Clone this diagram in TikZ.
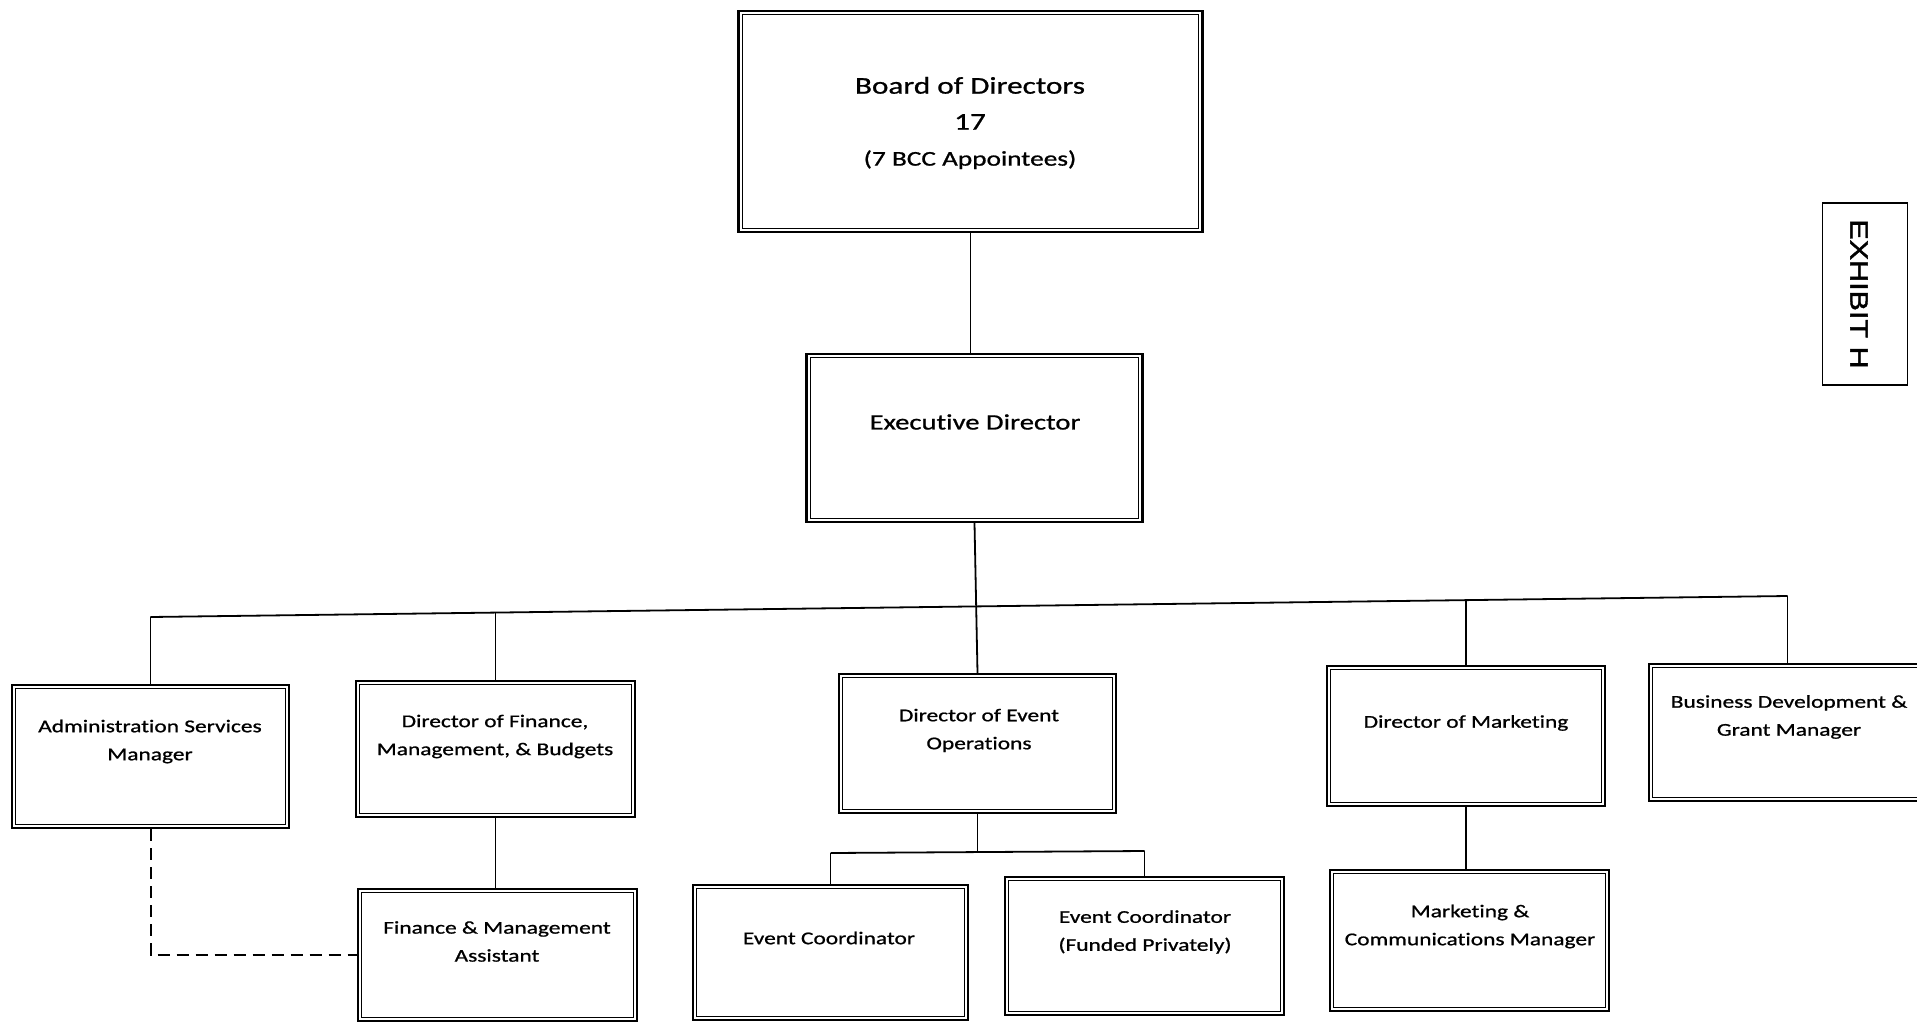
\documentclass[tikz,border=0pt]{standalone}
\usepackage{fontspec}
\setmainfont{Carlito}[FakeStretch=1.3, FakeBold=0.9, Ligatures=NoCommon]
\newfontfamily\exfont{Liberation Sans}[FakeStretch=1.22, FakeBold=1.6]
\tikzset{
  obox/.style={draw, line width=2.4pt, fill=white, inner sep=0pt},
  ibox/.style={draw, line width=1.1pt},
  conn/.style={line width=1.8pt},
  dconn/.style={line width=2pt, dash pattern=on 12pt off 7pt},
  rt/.style={align=center, inner sep=0pt, font=\fontsize{18}{28}\selectfont},
}
\newcommand\obx[5]{%
  \node[obox, minimum width=#4pt, minimum height=#5pt] (#1) at (#2,#3) {};
  \draw[ibox] ([shift={(5pt,5pt)}]#1.south west) rectangle ([shift={(-5pt,-5pt)}]#1.north east);
}
\begin{document}
\begin{tikzpicture}[x=1pt,y=-1pt]
\useasboundingbox (0,0) rectangle (1917,1023);
% boxes
\obx{board}{970.5}{121.5}{464}{221}
\obx{exec}{974.5}{438}{336}{168}
\obx{adm}{150.5}{756.5}{277}{143}
\obx{fin}{495.5}{749}{279}{136}
\obx{evops}{977.5}{743.5}{277}{139}
\obx{mkt}{1466}{736}{278}{140}
\obx{biz}{1787.5}{732.5}{277}{137}
\obx{fina}{497.5}{955}{279}{132}
\obx{evc}{830.5}{952.5}{275}{135}
\obx{evcf}{1144.5}{946}{279}{138}
\obx{mkc}{1469.5}{940.5}{279}{141}
% exhibit
\node[draw, line width=1.1pt, minimum width=85pt, minimum height=182pt, inner sep=0pt] (exh) at (1865,294) {};
\node[rotate=-90, inner sep=0pt, font=\exfont\fontsize{25}{30}\selectfont] (exht) at (1859,294) {EXHIBIT H};
% texts
\node[align=center, inner sep=0pt, font=\fontsize{24}{36}\selectfont] (boardt) at (970,123)
  {Board of Directors\\17\\{\fontsize{21}{25}\selectfont (7 BCC Appointees)}};
\node[inner sep=0pt, font=\fontsize{22}{28}\selectfont] (exect) at (975,422) {Executive Director};
\node[rt] (admt) at (150,741.5) {Administration Services\\Manager};
\node[rt] (fint) at (495,736.5) {Director of Finance,\\Management, \& Budgets};
\node[rt] (evopst) at (979,730.5) {Director of Event\\Operations};
\node[rt] (mktt) at (1466,723) {Director of Marketing};
\node[rt] (bizt) at (1789,717) {Business Development \&\\Grant Manager};
\node[rt] (finat) at (497,941.5) {Finance \& Management\\Assistant};
\node[rt] (evct) at (829,938) {Event Coordinator};
\node[rt] (evcft) at (1145,932) {Event Coordinator\\(Funded Privately)};
\node[rt] (mkct) at (1470,926.5) {Marketing \&\\Communications Manager};
% bus coordinates
\coordinate (badm) at (150.5,617);
\coordinate (bfin) at (495.5,612.5);
\coordinate (bmkt) at (1466,600.1);
\coordinate (bbiz) at (1787.5,596);
\coordinate (ejn) at (977.5,852);
\coordinate (eleft) at (830.5,853);
\coordinate (eright) at (1144.5,851);
% connectors
\draw[conn] (board.south) -- (board.south |- exec.north);
\draw[conn] (exec.south) -- (evops.north);
\draw[conn] (badm) -- (bbiz);
\draw[conn] (badm) -- (adm.north);
\draw[conn] (bfin) -- (fin.north);
\draw[conn] (bmkt) -- (mkt.north);
\draw[conn] (bbiz) -- (biz.north);
\draw[conn] (fin.south) -- (fin.south |- fina.north);
\draw[conn] (evops.south) -- (ejn);
\draw[conn] (eleft) -- (eright);
\draw[conn] (eleft) -- (evc.north);
\draw[conn] (eright) -- (evcf.north);
\draw[conn] (mkt.south) -- (mkt.south |- mkc.north);
\draw[dconn] (adm.south) |- (fina.west);
\end{tikzpicture}
\end{document}
